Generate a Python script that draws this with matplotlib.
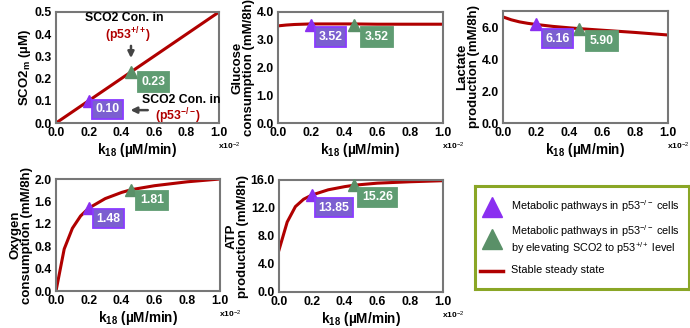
import numpy as np
import matplotlib.pyplot as plt

plt.rcParams["font.family"] = ["Liberation Sans", "DejaVu Sans"]
plt.rcParams["mathtext.fontset"] = "custom"
plt.rcParams["mathtext.rm"] = "Liberation Sans"
plt.rcParams["mathtext.it"] = "Liberation Sans:italic"
plt.rcParams["mathtext.bf"] = "Liberation Sans:bold"

# k18 grid (x10^-2 uM/min)
k18 = [0.0, 0.05, 0.1, 0.15, 0.2, 0.3, 0.4, 0.46, 0.6, 0.8, 1.0]

sco2 = [0.0, 0.025, 0.05, 0.075, 0.10, 0.15, 0.20, 0.23, 0.30, 0.40, 0.50]
glucose = [3.50, 3.53, 3.55, 3.56, 3.57, 3.57, 3.57, 3.57, 3.56, 3.56, 3.56]
lactate = [6.63, 6.45, 6.32, 6.23, 6.16, 6.04, 5.95, 5.90, 5.80, 5.66, 5.50]
oxygen = [0.0, 0.75, 1.12, 1.34, 1.48, 1.65, 1.76, 1.81, 1.88, 1.95, 2.0]
atp = [6.0, 10.0, 12.2, 13.25, 13.85, 14.6, 15.05, 15.26, 15.55, 15.75, 15.9]

pt_x = [0.2, 0.46]
pts = {
    "sco2": [0.10, 0.23],
    "glucose": [3.52, 3.52],
    "lactate": [6.16, 5.90],
    "oxygen": [1.48, 1.81],
    "atp": [13.85, 15.26],
}
labels = {
    "sco2": ["0.10", "0.23"],
    "glucose": ["3.52", "3.52"],
    "lactate": ["6.16", "5.90"],
    "oxygen": ["1.48", "1.81"],
    "atp": ["13.85", "15.26"],
}
# where the value boxes sit (data coords)
box_pos = {
    "sco2": [(0.315, 0.061), (0.6, 0.185)],
    "glucose": [(0.32, 3.1), (0.6, 3.1)],
    "lactate": [(0.33, 5.28), (0.6, 5.12)],
    "oxygen": [(0.32, 1.29), (0.585, 1.62)],
    "atp": [(0.335, 12.07), (0.6, 13.5)],
}

RED = "#b00000"
PURPLE = "#8a2ff0"
GREEN = "#5a9068"
BOX_P = "#7b5fd0"
BOX_G = "#5f9c72"

W, H = 690, 328
fig = plt.figure(figsize=(W / 100, H / 100), dpi=100)


def make_ax(x0, x1, y0, y1):
    return fig.add_axes([x0 / W, 1 - y1 / H, (x1 - x0) / W, (y1 - y0) / H])


panels = [
    ("sco2", sco2, (56, 219, 12, 123), (0, 0.5), np.arange(0, 0.51, 0.1),
     r"SCO2$_\mathbf{m}$ (µM)"),
    ("glucose", glucose, (278, 443, 12, 123), (0, 4), np.arange(0, 4.1, 1),
     "Glucose\nconsumption (mM/8h)"),
    ("lactate", lactate, (503, 668, 11, 123), (0, 7), np.arange(0, 6.1, 2),
     "Lactate\nproduction (mM/8h)"),
    ("oxygen", oxygen, (56, 220, 179, 291), (0, 2), np.arange(0, 2.01, 0.4),
     "Oxygen\nconsumption (mM/8h)"),
    ("atp", atp, (279, 443, 180, 292), (0, 16), np.arange(0, 16.1, 4),
     "ATP\nproduction (mM/8h)"),
]

for key, ys, box, ylim, yticks, ylabel in panels:
    ax = make_ax(*box)
    ax.plot(k18, ys, color=RED, lw=2.2, zorder=2)
    ax.set_xlim(0, 1.0)
    ax.set_ylim(*ylim)
    xt = np.arange(0, 1.01, 0.2)
    ax.set_xticks(xt)
    ax.set_xticklabels(["%.1f" % v for v in xt])
    ax.set_yticks(yticks)
    ax.set_yticklabels(["%.1f" % v for v in yticks])
    ax.tick_params(length=0, labelsize=8.8, pad=3)
    for lab in ax.get_xticklabels() + ax.get_yticklabels():
        lab.set_fontweight("bold")
    for s in ax.spines.values():
        s.set_color("#777777")
        s.set_linewidth(1.5)
    ax.set_xlabel(r"k$_\mathbf{18}$ (µM/min)", fontsize=9.8, fontweight="bold",
                  labelpad=1)
    ax.set_ylabel(ylabel, fontsize=9.5, fontweight="bold", labelpad=1,
                  linespacing=1.0)
    ax.text(1.06, -0.16, r"x10$^{-2}$", transform=ax.transAxes, fontsize=6,
            fontweight="bold", ha="center", va="top")
    for i, (c, bc, ec) in enumerate([(PURPLE, BOX_P, "#8a3cff"), (GREEN, BOX_G, BOX_G)]):
        ax.plot(pt_x[i], pts[key][i], marker="^", ms=8.5, color=c, zorder=4,
                clip_on=False)
        bx, by = box_pos[key][i]
        ax.text(bx, by, labels[key][i], color="white",
                fontsize=8.8, fontweight="bold", ha="center", va="center", zorder=5,
                bbox=dict(boxstyle="square,pad=0.3", fc=bc, ec=ec, lw=1.3))
    if key == "sco2":
        ax.text(0.42, 0.473, "SCO2 Con. in", fontsize=8.8, fontweight="bold",
                ha="center", va="center")
        ax.text(0.44, 0.396, r"(p53$^\mathbf{+/+}$)", fontsize=8.8,
                fontweight="bold", color=RED, ha="center", va="center")
        ax.annotate("", xy=(0.46, 0.28), xytext=(0.46, 0.36),
                    arrowprops=dict(arrowstyle="-|>", color="#444444", lw=1.8,
                                    mutation_scale=9))
        ax.text(0.77, 0.104, "SCO2 Con. in", fontsize=8.8, fontweight="bold",
                ha="center", va="center")
        ax.text(0.75, 0.03, r"(p53$^\mathbf{-/-}$)", fontsize=8.8,
                fontweight="bold", color=RED, ha="center", va="center")
        ax.annotate("", xy=(0.44, 0.058), xytext=(0.58, 0.058),
                    arrowprops=dict(arrowstyle="-|>", color="#444444", lw=1.8,
                                    mutation_scale=9))

# legend panel
lax = make_ax(475, 689, 186, 289)
lax.set_xlim(0, 1)
lax.set_ylim(0, 1)
lax.set_xticks([])
lax.set_yticks([])
for s in lax.spines.values():
    s.set_color("#8aa626")
    s.set_linewidth(2.2)
lax.plot(0.08, 0.80, marker="^", ms=15, color=PURPLE)
lax.plot(0.08, 0.49, marker="^", ms=15, color=GREEN)
lax.plot([0.023, 0.13], [0.17, 0.17], color=RED, lw=2.5)
lax.text(0.17, 0.80, r"Metabolic pathways in p53$^{-/-}$ cells", fontsize=7.8,
         va="center")
lax.text(0.17, 0.48, "Metabolic pathways in p53$^{-/-}$ cells\nby elevating SCO2 to p53$^{+/+}$ level",
         fontsize=7.8, va="center", linespacing=1.1)
lax.text(0.17, 0.18, "Stable steady state", fontsize=7.8, va="center")

fig.savefig("out.png", dpi=100)
